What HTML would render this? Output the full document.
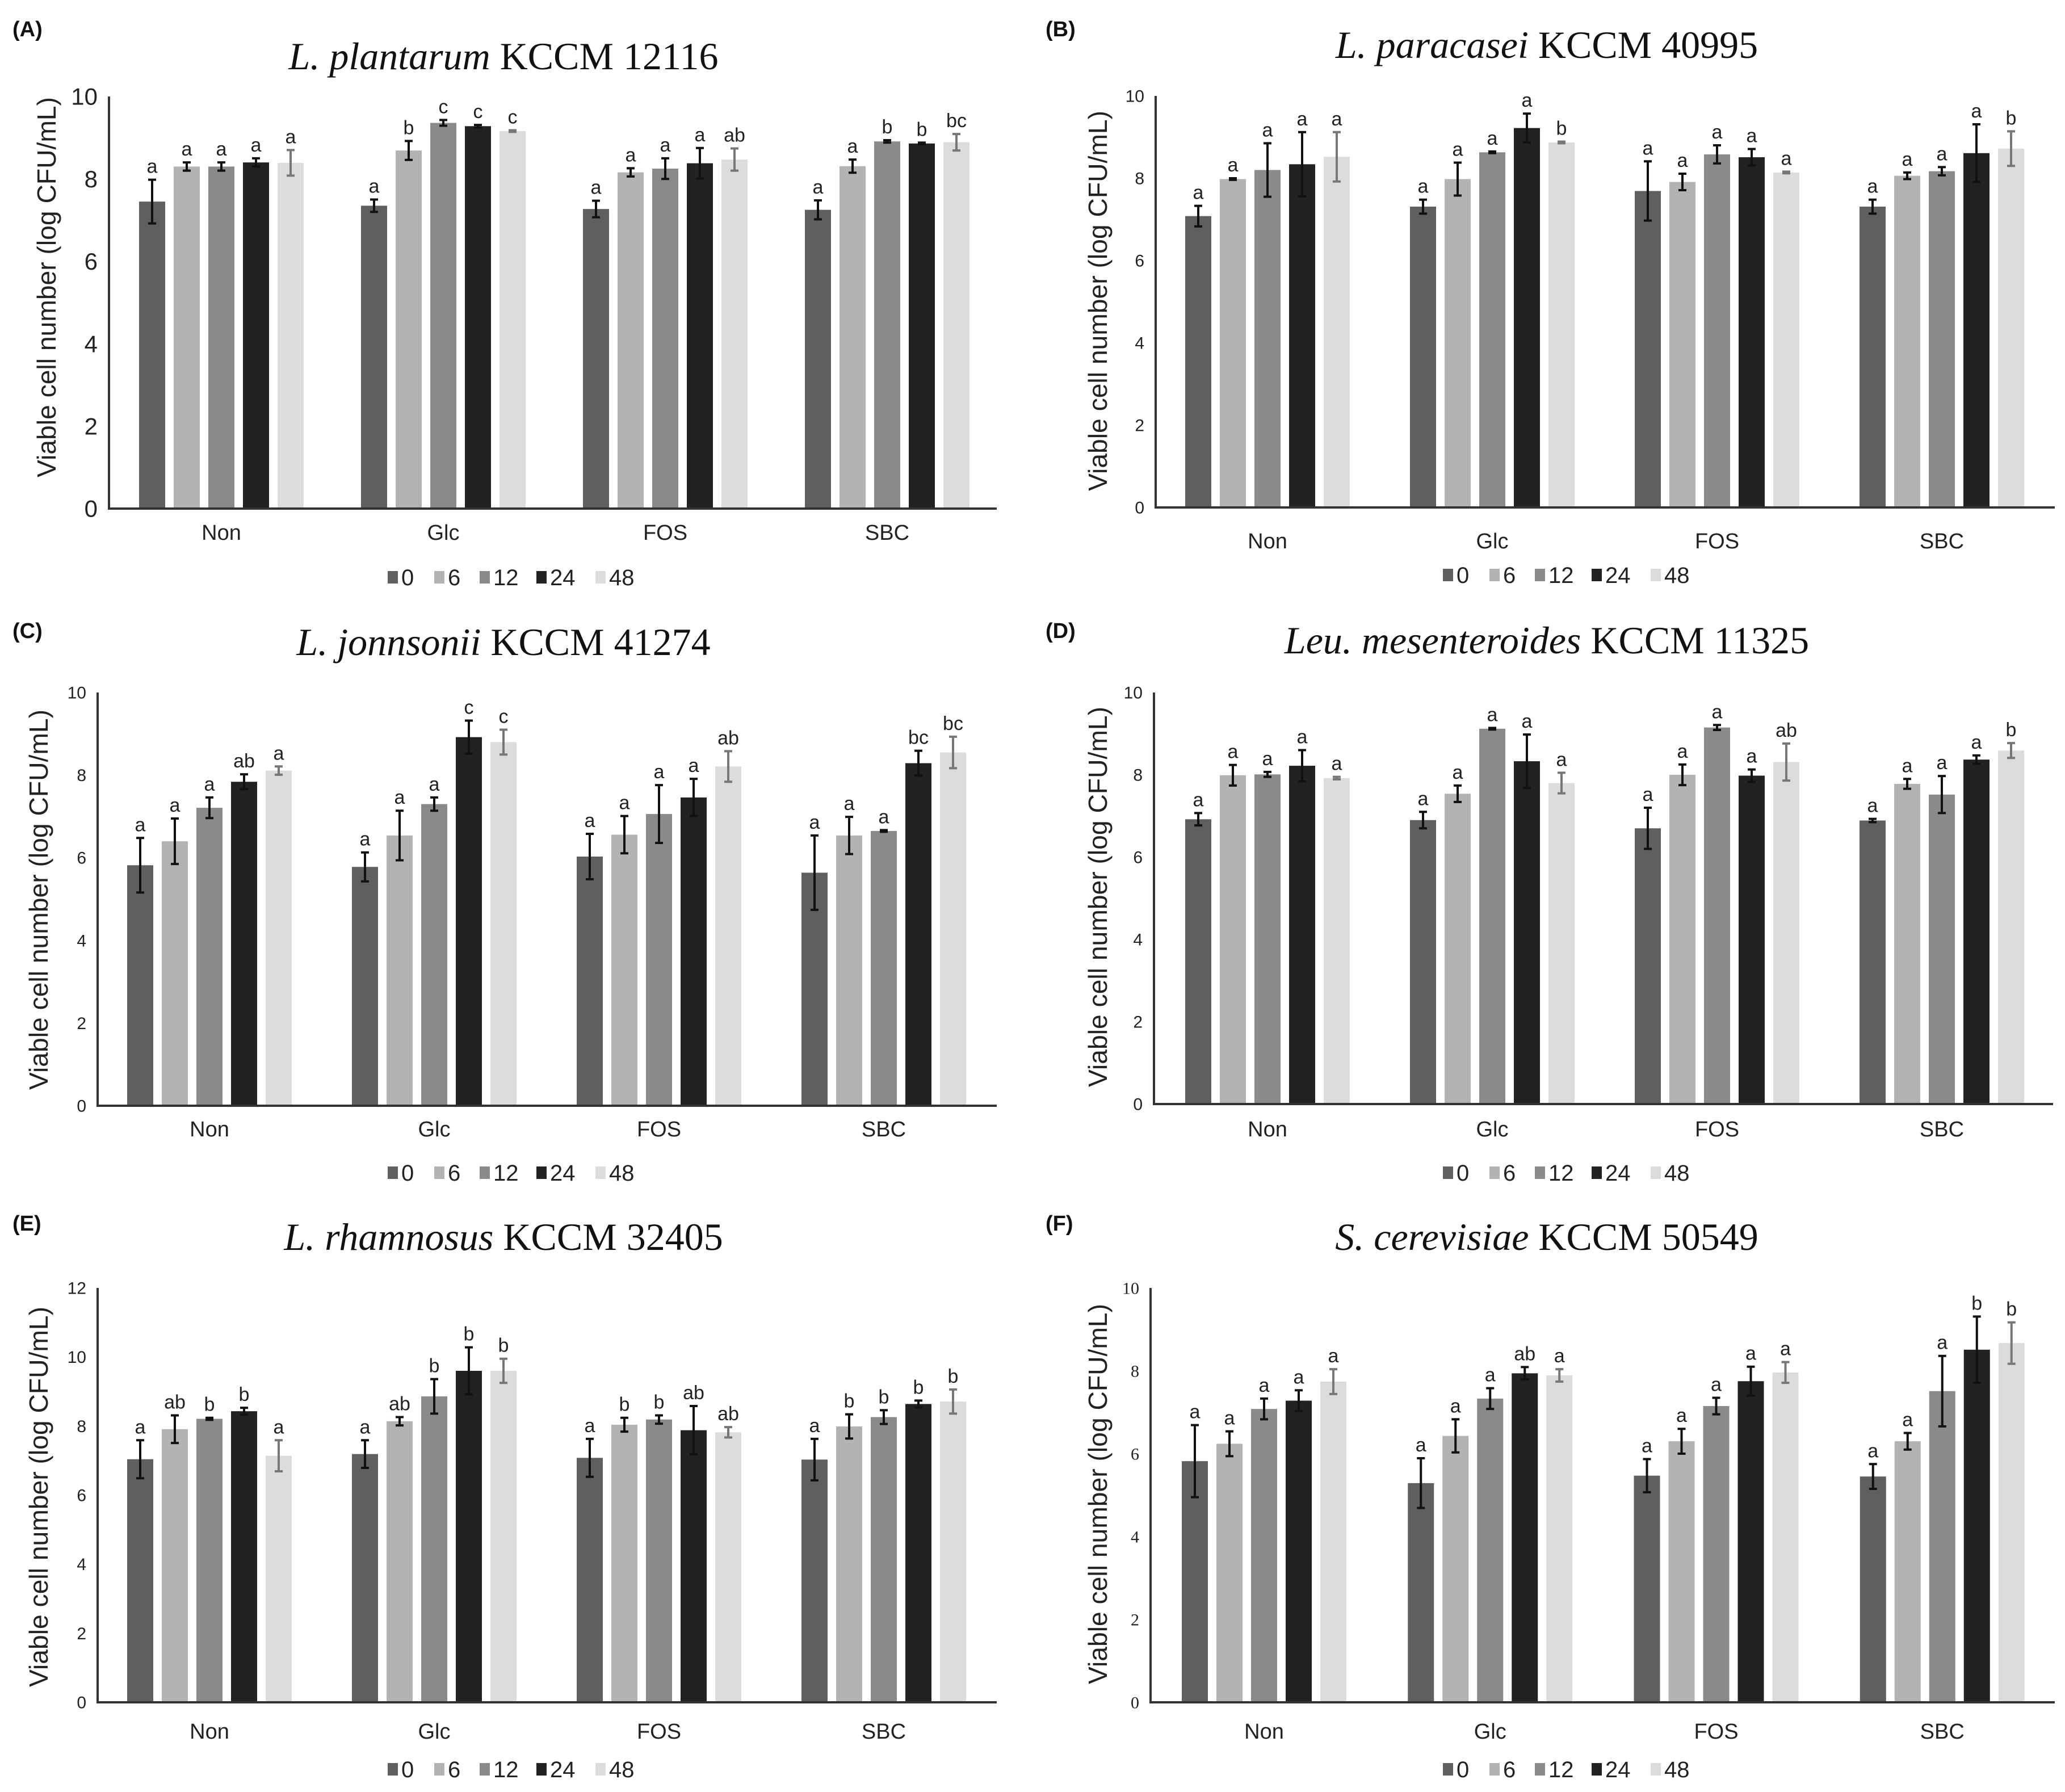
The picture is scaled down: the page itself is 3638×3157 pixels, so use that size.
<!DOCTYPE html>
<html><head><meta charset="utf-8"><style>
html,body{margin:0;padding:0;background:#fff;}
svg{display:block;}
</style></head><body>
<svg id="fig" width="3638" height="3157" viewBox="0 0 3638 3157" xmlns="http://www.w3.org/2000/svg"></svg>
<script>
const categories = ["Non","Glc","FOS","SBC"];
const timePoints = ["0","6","12","24","48"];
const seriesColors = ["#5f5f5f","#b3b3b3","#8a8a8a","#222222","#dcdcdc"];

const aVals = [[7.45,8.30,8.30,8.40,8.39],[7.35,8.69,9.36,9.28,9.16],[7.27,8.16,8.25,8.38,8.47],[7.25,8.31,8.91,8.86,8.89]];
const aErrs = [[0.53,0.10,0.10,0.10,0.31],[0.15,0.23,0.07,0.03,0.02],[0.20,0.10,0.25,0.37,0.27],[0.23,0.16,0.03,0.02,0.20]];
const aLetters = [["a","a","a","a","a"],["a","b","c","c","c"],["a","a","a","a","ab"],["a","a","b","b","bc"]];

const bVals = [[7.08,7.98,8.20,8.34,8.52],[7.31,7.98,8.63,9.22,8.87],[7.69,7.91,8.58,8.51,8.14],[7.31,8.06,8.17,8.61,8.72]];
const bErrs = [[0.25,0.02,0.65,0.78,0.60],[0.17,0.40,0.02,0.35,0.02],[0.72,0.20,0.22,0.20,0.02],[0.17,0.08,0.10,0.70,0.42]];
const bLetters = [["a","a","a","a","a"],["a","a","a","a","b"],["a","a","a","a","a"],["a","a","a","a","b"]];

const cVals = [[5.82,6.40,7.21,7.84,8.11],[5.78,6.54,7.30,8.92,8.80],[6.03,6.56,7.06,7.46,8.21],[5.64,6.54,6.65,8.29,8.55]];
const cErrs = [[0.66,0.55,0.25,0.18,0.10],[0.35,0.60,0.16,0.40,0.30],[0.55,0.45,0.70,0.45,0.37],[0.90,0.45,0.02,0.30,0.38]];
const cLetters = [["a","a","a","ab","a"],["a","a","a","c","c"],["a","a","a","a","ab"],["a","a","a","bc","bc"]];

const dVals = [[6.92,7.99,8.01,8.22,7.92],[6.90,7.54,9.12,8.33,7.80],[6.70,8.00,9.15,7.98,8.31],[6.89,7.78,7.52,8.37,8.59]];
const dErrs = [[0.15,0.25,0.06,0.38,0.03],[0.20,0.20,0.02,0.65,0.25],[0.50,0.25,0.06,0.15,0.45],[0.04,0.12,0.45,0.10,0.18]];
const dLetters = [["a","a","a","a","a"],["a","a","a","a","a"],["a","a","a","a","ab"],["a","a","a","a","b"]];

const eVals = [[7.04,7.91,8.21,8.43,7.14],[7.19,8.14,8.86,9.60,9.60],[7.08,8.04,8.19,7.88,7.82],[7.03,7.99,8.26,8.64,8.71]];
const eErrs = [[0.55,0.40,0.03,0.10,0.45],[0.40,0.12,0.50,0.68,0.35],[0.55,0.20,0.12,0.70,0.15],[0.60,0.35,0.20,0.10,0.35]];
const eLetters = [["a","ab","b","b","a"],["a","ab","b","b","b"],["a","b","b","ab","ab"],["a","b","b","b","b"]];

const fVals = [[5.82,6.24,7.08,7.28,7.74],[5.29,6.43,7.33,7.94,7.89],[5.47,6.30,7.15,7.75,7.96],[5.45,6.30,7.51,8.51,8.67]];
const fErrs = [[0.87,0.30,0.25,0.25,0.30],[0.60,0.40,0.25,0.15,0.15],[0.40,0.30,0.20,0.35,0.25],[0.30,0.20,0.85,0.80,0.50]];
const fLetters = [["a","a","a","a","a"],["a","a","a","ab","a"],["a","a","a","a","a"],["a","a","a","b","b"]];

const NS = "http://www.w3.org/2000/svg";
const svg = document.getElementById('fig');
function mk(tag, attrs, parent, text){
  const e = document.createElementNS(NS, tag);
  for (const k in attrs) e.setAttribute(k, attrs[k]);
  if (text !== undefined) e.textContent = text;
  (parent||svg).appendChild(e);
  return e;
}

const panels = [
 {id:"a", label:"(A)", italic:"L. plantarum", rest:" KCCM 12116", vals:aVals, errs:aErrs, letters:aLetters,
  ox:0, ax:192, ar:1756, y0:896, yTop:170, max:10, step:2, off:53, tickFont:42, tickSerif:false,
  titleY:122, catY:951, legY:1017, legX:683, ytX:98, ytY:506, labY:50},
 {id:"b", label:"(B)", italic:"L. paracasei", rest:" KCCM 40995", vals:bVals, errs:bErrs, letters:bLetters,
  ox:1820, ax:2036, ar:3620, y0:894, yTop:169, max:10, step:2, off:52, tickFont:30, tickSerif:false,
  titleY:102, catY:966, legY:1013, legX:2542, ytX:1950, ytY:530, labY:50},
 {id:"c", label:"(C)", italic:"L. jonnsonii", rest:" KCCM 41274", vals:cVals, errs:cErrs, letters:cLetters,
  ox:0, ax:172, ar:1756, y0:1948, yTop:1220, max:10, step:2, off:52, tickFont:30, tickSerif:false,
  titleY:1154, catY:2002, legY:2066, legX:683, ytX:84, ytY:1585, labY:1110},
 {id:"d", label:"(D)", italic:"Leu. mesenteroides", rest:" KCCM 11325", vals:dVals, errs:dErrs, letters:dLetters,
  ox:1820, ax:2033, ar:3617, y0:1945, yTop:1220, max:10, step:2, off:55, tickFont:30, tickSerif:false,
  titleY:1151, catY:2002, legY:2066, legX:2542, ytX:1950, ytY:1580, labY:1110},
 {id:"e", label:"(E)", italic:"L. rhamnosus", rest:" KCCM 32405", vals:eVals, errs:eErrs, letters:eLetters,
  ox:0, ax:172, ar:1756, y0:2999, yTop:2269, max:12, step:2, off:52, tickFont:30, tickSerif:false,
  titleY:2202, catY:3063, legY:3117, legX:683, ytX:84, ytY:2637, labY:2154},
 {id:"f", label:"(F)", italic:"S. cerevisiae", rest:" KCCM 50549", vals:fVals, errs:fErrs, letters:fLetters,
  ox:1820, ax:2027, ar:3620, y0:2999, yTop:2269, max:10, step:2, off:55, tickFont:30, tickSerif:true,
  titleY:2202, catY:3063, legY:3117, legX:2542, ytX:1950, ytY:2632, labY:2154}
];

const BW = 46, BP = 61;

panels.forEach(p => {
  const g = mk('g', {});
  
  
  const yS = v => p.y0 - (v / p.max) * (p.y0 - p.yTop);
  const gp = (p.ar - p.ax) / 4;
  const xS = (ci, si) => p.ax + p.off + ci * gp + si * BP;

  const lab = mk('text', {x:p.ox+22, y:p.labY+14, 'font-family':'Liberation Sans, sans-serif', 'font-weight':'bold', 'font-size':38, fill:'#111'}, g, p.label);
  
  

  const cx = (p.ax + p.ar) / 2 - 80;
  const t = mk('text', {x:p.ox + 905 - (p.ox?0:18) + (p.ox? -0:0), y:p.titleY, 'text-anchor':'middle', 'font-family':'Liberation Serif, serif', 'font-size':68, fill:'#111'}, g);
  
  
  mk('tspan', {'font-style':'italic'}, t, p.italic);
  mk('tspan', {}, t, p.rest);

  // y ticks
  for (let v = 0; v <= p.max; v += p.step) {
    const tk = mk('text', {x:p.ax - 20, y:yS(v) + p.tickFont*0.35, 'text-anchor':'end', 'font-family': p.tickSerif ? 'Liberation Serif, serif' : 'Liberation Sans, sans-serif', 'font-size':p.tickFont, fill:'#222'}, g, String(v));
    
    
  }
  const yt = mk('text', {x:0, y:0, transform:`translate(${p.ytX},${p.ytY}) rotate(-90)`, 'text-anchor':'middle', 'font-family':'Liberation Sans, sans-serif', 'font-size':46, fill:'#222', textLength:670, lengthAdjust:'spacingAndGlyphs'}, g, 'Viable cell number (log CFU/mL)');
  
  

  // bars
  categories.forEach((cat, ci) => {
    timePoints.forEach((tp, si) => {
      const v = p.vals[ci][si], e = p.errs[ci][si];
      const x = xS(ci, si);
      const r = mk('rect', {x:x, y:yS(v), width:BW, height:p.y0 - yS(v), fill:seriesColors[si]}, g);
      
      
      const mx = x + BW/2, col = si === 4 ? '#777' : '#111';
      const eb = mk('path', {d:`M${mx},${yS(v+e)}V${yS(v-e)}M${mx-7},${yS(v+e)}H${mx+7}M${mx-7},${yS(v-e)}H${mx+7}`, stroke:col, 'stroke-width':4, fill:'none'}, g);
      
      
      const lt = mk('text', {x:mx, y:yS(v+e) - 12, 'text-anchor':'middle', 'font-family':'Liberation Sans, sans-serif', 'font-size':34, fill:'#222'}, g, p.letters[ci][si]);
      
      
    });
    const cl = mk('text', {x:xS(ci,2) + BW/2, y:p.catY, 'text-anchor':'middle', 'font-family':'Liberation Sans, sans-serif', 'font-size':38, fill:'#222'}, g, cat);
    
    
  });

  // axes
  const axl = mk('path', {d:`M${p.ax},${p.yTop}V${p.y0}H${p.ar}`, stroke:'#333', 'stroke-width':4, fill:'none'}, g);
  
  

  // legend
  const legOff = [0, 82, 162, 262, 366];
  timePoints.forEach((tp, si) => {
    const lx = p.legX + legOff[si];
    const sq = mk('rect', {x:lx, y:p.legY - 11, width:18, height:22, fill:seriesColors[si]}, g);
    
    
    const lt = mk('text', {x:lx + 24, y:p.legY + 14, 'font-family':'Liberation Sans, sans-serif', 'font-size':40, fill:'#222'}, g, tp);
    
    
  });
});
</script>
</body></html>
